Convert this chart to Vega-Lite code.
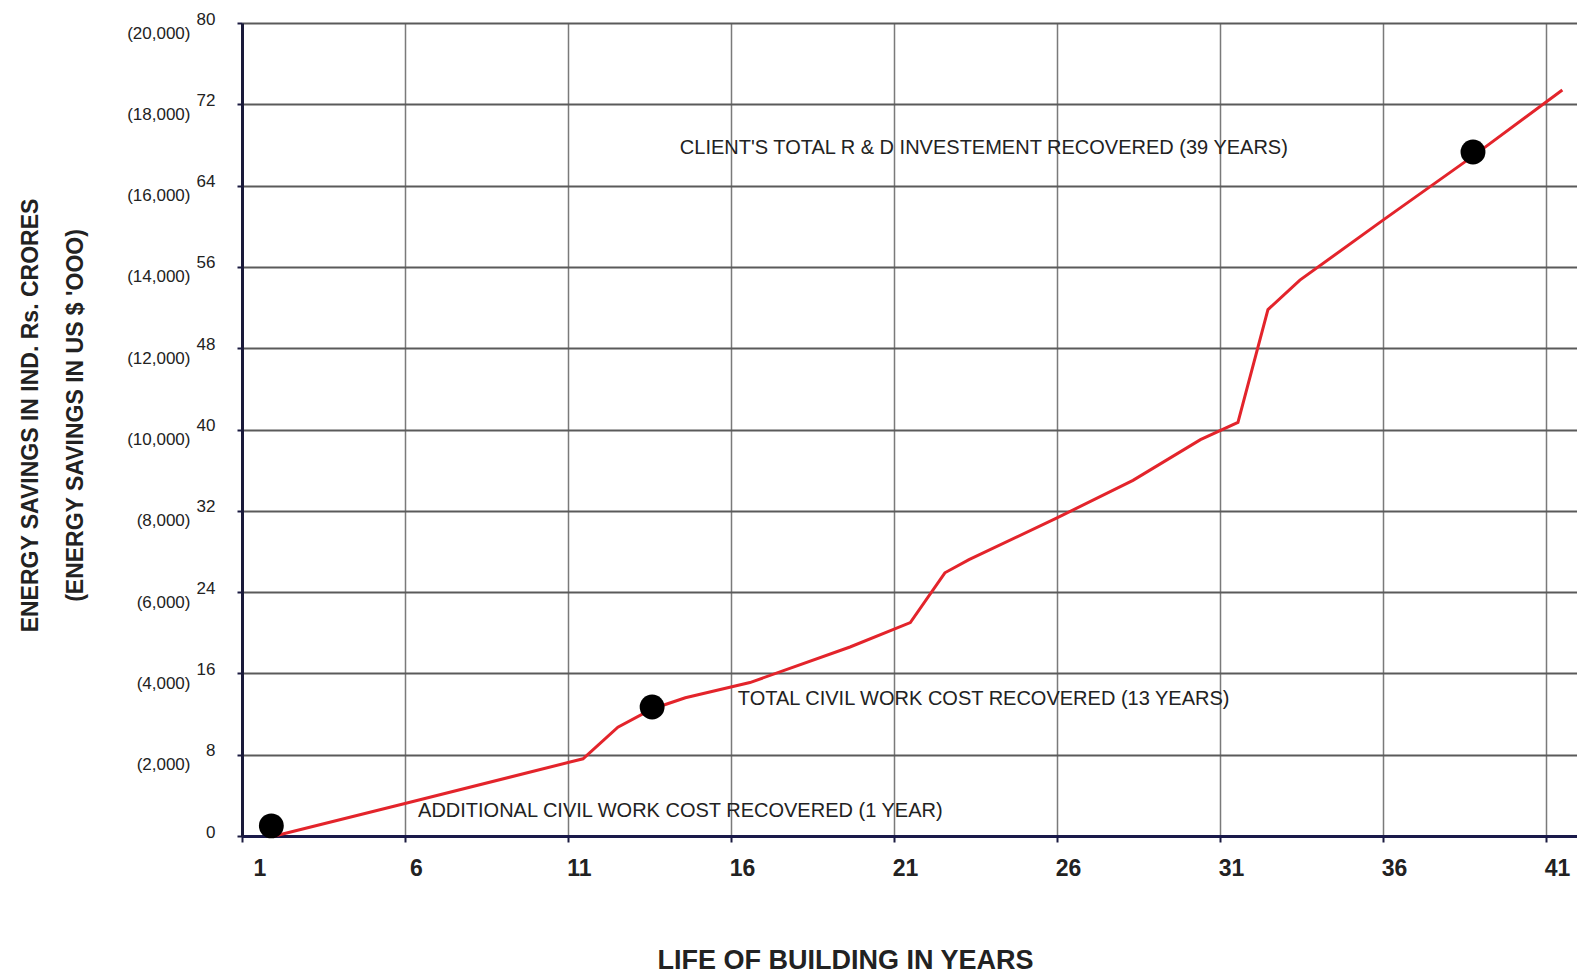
{
  "$schema": "https://vega.github.io/schema/vega-lite/v6.json",
  "width": 1335,
  "height": 813,
  "autosize": "none",
  "padding": {"left": 242, "top": 23, "right": 0, "bottom": 142},
  "background": "white",
  "datasets": {
    "curve": [
      {"year": 2.0, "savings": 0},
      {"year": 6.06, "savings": 3.25},
      {"year": 11.46, "savings": 7.6},
      {"year": 12.53, "savings": 10.7},
      {"year": 13.58, "savings": 12.5},
      {"year": 14.6, "savings": 13.6},
      {"year": 16.58, "savings": 15.1},
      {"year": 19.65, "savings": 18.6},
      {"year": 21.5, "savings": 21.0},
      {"year": 22.56, "savings": 25.9},
      {"year": 23.3, "savings": 27.2},
      {"year": 26.0, "savings": 31.3},
      {"year": 28.33, "savings": 35.0},
      {"year": 30.4, "savings": 39.0},
      {"year": 31.55, "savings": 40.7},
      {"year": 32.47, "savings": 51.8},
      {"year": 33.45, "savings": 54.7},
      {"year": 36.0, "savings": 60.6},
      {"year": 38.76, "savings": 66.9},
      {"year": 41.5, "savings": 73.4}
    ],
    "milestones": [
      {"year": 1.9, "savings": 1.0},
      {"year": 13.58, "savings": 12.7},
      {"year": 38.76, "savings": 67.3}
    ],
    "notes": [
      {"year": 14.43, "savings": 67.7, "label": "CLIENT'S TOTAL R & D INVESTEMENT RECOVERED (39 YEARS)"},
      {"year": 16.21, "savings": 13.5, "label": "TOTAL CIVIL WORK COST RECOVERED (13 YEARS)"},
      {"year": 6.4, "savings": 2.46, "label": "ADDITIONAL CIVIL WORK COST RECOVERED (1 YEAR)"}
    ]
  },
  "layer": [
    {
      "data": {"name": "curve"},
      "mark": {"type": "line", "color": "#e3242b", "strokeWidth": 3},
      "encoding": {
        "x": {
          "field": "year",
          "type": "quantitative",
          "scale": {"domain": [1, 41.95], "nice": false, "zero": false},
          "axis": {
            "values": [1, 6, 11, 16, 21, 26, 31, 36, 41],
            "title": "LIFE OF BUILDING IN YEARS",
            "titleFont": "Liberation Sans",
            "titleFontSize": 27,
            "titleFontWeight": "bold",
            "titleColor": "#222",
            "titleX": 603,
            "titleY": 132,
            "titleBaseline": "alphabetic",
            "labelFont": "Liberation Sans",
            "labelFontSize": 23,
            "labelFontWeight": "bold",
            "labelColor": "#222",
            "labelOffset": 11,
            "labelPadding": 15,
            "tickSize": 6,
            "tickColor": "#1a1a40",
            "tickWidth": 2,
            "domainColor": "#1a1a4a",
            "domainWidth": 3,
            "grid": true,
            "gridColor": "#7a7a7a",
            "gridWidth": 1.5
          }
        },
        "y": {
          "field": "savings",
          "type": "quantitative",
          "scale": {"domain": [0, 80], "nice": false},
          "axis": {
            "values": [0, 8, 16, 24, 32, 40, 48, 56, 64, 72, 80],
            "title": null,
            "labelFont": "Liberation Sans",
            "labelFontSize": 17,
            "labelColor": "#222",
            "labelOffset": -4,
            "labelPadding": 22,
            "tickSize": 5,
            "tickColor": "#1a1a40",
            "tickWidth": 2,
            "domainColor": "#1a1a3a",
            "domainWidth": 3,
            "grid": true,
            "gridColor": "#5a5a5a",
            "gridWidth": 2
          }
        }
      }
    },
    {
      "data": {"name": "milestones"},
      "mark": {"type": "point", "shape": "circle", "filled": true, "color": "black", "size": 620, "opacity": 1},
      "encoding": {
        "x": {"field": "year", "type": "quantitative"},
        "y": {
          "field": "savings",
          "type": "quantitative",
          "axis": {
            "orient": "left",
            "values": [0, 8, 16, 24, 32, 40, 48, 56, 64, 72, 80],
            "labelExpr": "datum.value == 0 ? '' : '(' + format(datum.value * 250, ',') + ')'",
            "labelFont": "Liberation Sans",
            "labelFontSize": 17,
            "labelColor": "#222",
            "labelOffset": 10,
            "labelPadding": 52,
            "ticks": false,
            "domain": false,
            "grid": false,
            "title": ["ENERGY SAVINGS IN IND. Rs. CRORES", "(ENERGY SAVINGS IN US $ 'OOO)"],
            "titleFont": "Liberation Sans",
            "titleFontSize": 23,
            "titleFontWeight": "bold",
            "titleColor": "#222",
            "titleLineHeight": 45,
            "titleAngle": -90,
            "titleAlign": "center",
            "titleBaseline": "bottom",
            "titleX": -200,
            "titleY": 392
          }
        }
      }
    },
    {
      "data": {"name": "notes"},
      "mark": {"type": "text", "align": "left", "baseline": "middle", "font": "Liberation Sans", "fontSize": 20, "color": "#222"},
      "encoding": {
        "x": {"field": "year", "type": "quantitative"},
        "y": {"field": "savings", "type": "quantitative", "axis": null},
        "text": {"field": "label"}
      }
    }
  ],
  "resolve": {"axis": {"y": "independent"}},
  "config": {"view": {"stroke": null}}
}
